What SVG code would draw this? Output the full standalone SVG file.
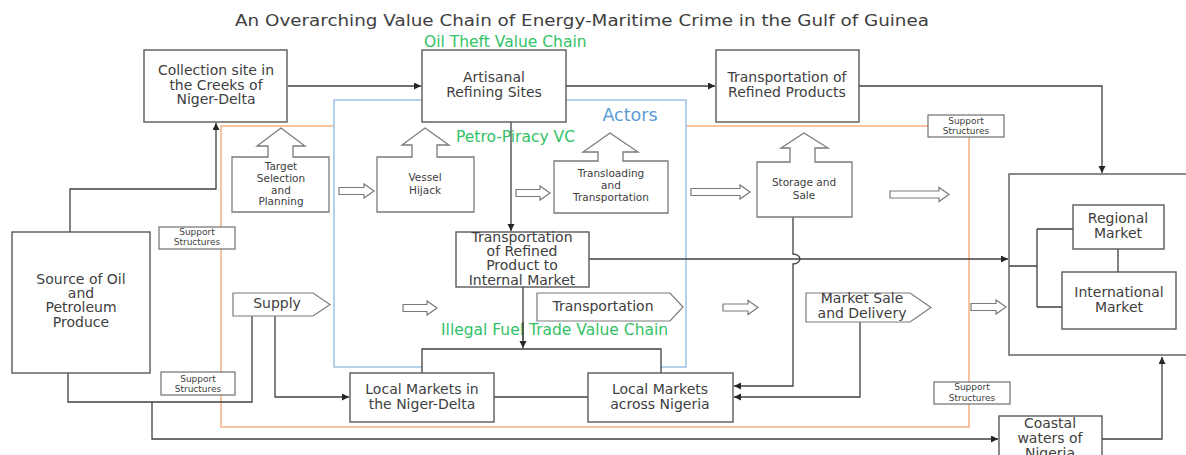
<svg xmlns="http://www.w3.org/2000/svg" width="1186" height="455" viewBox="0 0 1186 455">
  <defs>
    <marker id="tip" markerUnits="userSpaceOnUse" markerWidth="8" markerHeight="8" refX="7" refY="3.5" orient="auto">
      <path d="M0,0 L7,3.5 L0,7 z" fill="#262626"/>
    </marker>
    <style>
      text { font-family: "DejaVu Sans", "Liberation Sans", sans-serif; fill: #404040; text-anchor: middle; }
      .box { fill: #ffffff; stroke: #595959; stroke-width: 1.4; }
      .callout { fill: #ffffff; stroke: #7a7a7a; stroke-width: 1.3; }
      .flow { fill: #ffffff; stroke: #7a7a7a; stroke-width: 1.2; }
      .sup { fill: #ffffff; stroke: #6f6f6f; stroke-width: 1.2; }
      .wire { fill: none; stroke: #404040; stroke-width: 1.3; }
      .main { font-size: 14px; }
      .small { font-size: 10.5px; }
      .tiny { font-size: 9px; }
      .green { font-size: 15.5px; fill: #33c266; text-anchor: start; }
    </style>
  </defs>

  <rect width="1186" height="455" fill="#ffffff"/>

  <!-- title -->
  <text x="235" y="26" font-size="16.5" style="text-anchor:start" textLength="694" lengthAdjust="spacingAndGlyphs">An Overarching Value Chain of Energy-Maritime Crime in the Gulf of Guinea</text>

  <!-- support-structure frame (orange) and actors frame (blue) -->
  <g id="frames">
    <path d="M928,126 H221 V427 H969 V137" fill="none" stroke="#f4b183" stroke-width="1.5"/>
    <path d="M422,367 H334 V100 H686 V367 H661" fill="#ffffff" stroke="#9dc3e6" stroke-width="1.5"/>
    <text x="630" y="121" font-size="17.5" style="fill:#5b9bd5">Actors</text>
  </g>

  <!-- connectors -->
  <g id="connectors" class="wire">
    <path class="wire" d="M70,232 V189 H216 V123" marker-end="url(#tip)"/>
    <path class="wire" d="M288,86 H421" marker-end="url(#tip)"/>
    <path class="wire" d="M566,86 H715" marker-end="url(#tip)"/>
    <path class="wire" d="M859,86 H1102 V173" marker-end="url(#tip)"/>
    <path class="wire" d="M511,122 V231" marker-end="url(#tip)"/>
    <path class="wire" d="M589,259 H1008" marker-end="url(#tip)"/>
    <path class="wire" d="M793,217 V254 A7,5 0 0 1 793,264 V386 H734" marker-end="url(#tip)"/>
    <path class="wire" d="M860,322 V397 H734" marker-end="url(#tip)"/>
    <path class="wire" d="M523,287 V348" marker-end="url(#tip)"/>
    <path class="wire" d="M422,373 V349 H661 V373"/>
    <path class="wire" d="M494,397 H588"/>
    <path class="wire" d="M68,373 V402 H252 V316"/>
    <path class="wire" d="M152,402 V439 H998" marker-end="url(#tip)"/>
    <path class="wire" d="M275,316 V397 H349" marker-end="url(#tip)"/>
    <path class="wire" d="M1102,439 H1162 V357" marker-end="url(#tip)"/>
    <path class="wire" d="M1009,266 H1037 M1037,229 V307 M1037,229 H1073 M1037,307 H1062 M1118,249 V272"/>
  </g>

  <!-- outline flow arrows -->
  <g id="flow-arrows" class="flow">
    <path class="flow" d="M339,187.5 H364 V184 L374,191 L364,198 V194.5 H339 Z"/>
    <path class="flow" d="M516,189.5 H540 V186 L550,193 L540,200 V196.5 H516 Z"/>
    <path class="flow" d="M691,188.5 H740 V185 L750,192 L740,199 V195.5 H691 Z"/>
    <path class="flow" d="M890,191 H939 V187.5 L949,194.5 L939,201.5 V198 H890 Z"/>
    <path class="flow" d="M403,304.5 H427 V301 L437,308 L427,315 V311.5 H403 Z"/>
    <path class="flow" d="M723,304 H748 V300.5 L758,307.5 L748,314.5 V311 H723 Z"/>
    <path class="flow" d="M971,303.5 H996 V300 L1006,307 L996,314 V310.5 H971 Z"/>
  </g>

  <!-- main nodes -->
  <g id="collection-site">
    <rect class="box" x="144" y="50" width="143" height="72"/>
    <text class="main" x="216" y="75">Collection site in</text>
    <text class="main" x="216" y="89.5">the Creeks of</text>
    <text class="main" x="216" y="104">Niger-Delta</text>
  </g>
  <g id="artisanal-refining">
    <rect class="box" x="422" y="50" width="144" height="72"/>
    <text class="main" x="494" y="82">Artisanal</text>
    <text class="main" x="494" y="97">Refining Sites</text>
  </g>
  <g id="transport-refined">
    <rect class="box" x="716" y="50" width="143" height="72"/>
    <text class="main" x="787" y="82">Transportation of</text>
    <text class="main" x="787" y="97">Refined Products</text>
  </g>
  <g id="source">
    <rect class="box" x="12" y="232" width="138" height="141"/>
    <text class="main" x="81" y="284">Source of Oil</text>
    <text class="main" x="81" y="298">and</text>
    <text class="main" x="81" y="312">Petroleum</text>
    <text class="main" x="81" y="327">Produce</text>
  </g>
  <g id="transport-internal">
    <rect class="box" x="456" y="232" width="133" height="55"/>
    <text class="main" x="522" y="242">Transportation</text>
    <text class="main" x="522" y="256">of Refined</text>
    <text class="main" x="522" y="270">Product to</text>
    <text class="main" x="522" y="285">Internal Market</text>
  </g>
  <g id="local-niger-delta">
    <rect class="box" x="350" y="373" width="144" height="49"/>
    <text class="main" x="422" y="394">Local Markets in</text>
    <text class="main" x="422" y="409">the Niger-Delta</text>
  </g>
  <g id="local-nigeria">
    <rect class="box" x="588" y="373" width="145" height="49"/>
    <text class="main" x="660" y="394">Local Markets</text>
    <text class="main" x="660" y="409">across Nigeria</text>
  </g>
  <g id="markets">
    <rect class="box" x="1009" y="174" width="190" height="181" style="fill:none"/>
  </g>
  <g id="regional-market">
    <rect class="box" x="1073" y="205" width="91" height="44"/>
    <text class="main" x="1118" y="223">Regional</text>
    <text class="main" x="1118" y="238">Market</text>
  </g>
  <g id="international-market">
    <rect class="box" x="1062" y="272" width="114" height="57"/>
    <text class="main" x="1119" y="297">International</text>
    <text class="main" x="1119" y="312">Market</text>
  </g>
  <g id="coastal-waters">
    <rect class="box" x="999" y="416" width="103" height="60"/>
    <text class="main" x="1050" y="428">Coastal</text>
    <text class="main" x="1050" y="443">waters of</text>
    <text class="main" x="1050" y="458">Nigeria</text>
  </g>

  <!-- petro-piracy stages (up-arrow callouts) -->
  <g id="target-selection">
    <path class="callout" d="M232,212 V157 H268 V146 H257 L281,128 L305,146 H293 V157 H329 V212 Z"/>
    <text class="small" x="281" y="170">Target</text>
    <text class="small" x="281" y="182">Selection</text>
    <text class="small" x="281" y="193.5">and</text>
    <text class="small" x="281" y="205">Planning</text>
  </g>
  <g id="vessel-hijack">
    <path class="callout" d="M377,212 V157 H412 V145 H402 L425,128 L449,145 H437 V157 H474 V212 Z"/>
    <text class="small" x="425" y="181">Vessel</text>
    <text class="small" x="425" y="193.5">Hijack</text>
  </g>
  <g id="transloading">
    <path class="callout" d="M554,213 V161 H598 V152 H583 L610,133 L638,152 H623 V161 H668 V213 Z"/>
    <text class="small" x="611" y="177">Transloading</text>
    <text class="small" x="611" y="189">and</text>
    <text class="small" x="611" y="201">Transportation</text>
  </g>
  <g id="storage-sale">
    <path class="callout" d="M757,217 V162 H790 V148 H781 L804,133 L828,148 H815 V162 H852 V217 Z"/>
    <text class="small" x="804" y="186">Storage and</text>
    <text class="small" x="804" y="198.5">Sale</text>
  </g>

  <!-- illegal fuel trade stages (pentagons) -->
  <g id="supply">
    <path class="flow" d="M233,293 H313 L330,304.5 L313,316 H233 Z"/>
    <text class="main" x="277" y="308">Supply</text>
  </g>
  <g id="transportation">
    <path class="flow" d="M537,293 H670 L683,307 L670,321 H537 Z"/>
    <text class="main" x="603" y="311">Transportation</text>
  </g>
  <g id="market-sale">
    <path class="flow" d="M806,293 H910 L931,307.5 L910,322 H806 Z"/>
    <text class="main" x="862" y="303">Market Sale</text>
    <text class="main" x="862" y="318">and Delivery</text>
  </g>

  <!-- support structures -->
  <g id="support-1">
    <rect class="sup" x="159" y="227" width="76" height="22"/>
    <text class="tiny" x="197" y="235">Support</text>
    <text class="tiny" x="197" y="245">Structures</text>
  </g>
  <g id="support-2">
    <rect class="sup" x="161" y="372" width="74" height="23"/>
    <text class="tiny" x="198" y="382">Support</text>
    <text class="tiny" x="198" y="392">Structures</text>
  </g>
  <g id="support-3">
    <rect class="sup" x="928" y="115" width="76" height="22"/>
    <text class="tiny" x="966" y="124">Support</text>
    <text class="tiny" x="966" y="134">Structures</text>
  </g>
  <g id="support-4">
    <rect class="sup" x="934" y="382" width="76" height="22"/>
    <text class="tiny" x="972" y="390">Support</text>
    <text class="tiny" x="972" y="401">Structures</text>
  </g>

  <!-- value-chain labels -->
  <g id="chain-labels">
    <text class="green" x="424" y="47">Oil Theft Value Chain</text>
    <text class="green" x="456" y="142">Petro-Piracy VC</text>
    <text class="green" x="441" y="335">Illegal Fuel Trade Value Chain</text>
  </g>
  <!-- feed line drawn over the chain label -->
  <path d="M523,322 V340" fill="none" stroke="#404040" stroke-width="1.3"/>
</svg>
